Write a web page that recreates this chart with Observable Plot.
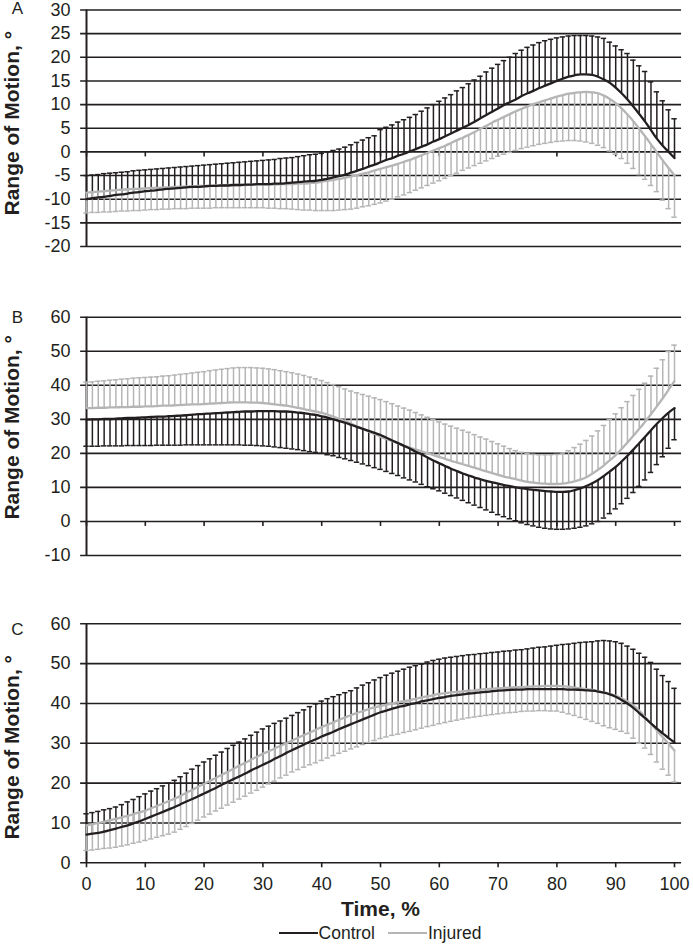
<!DOCTYPE html>
<html>
<head>
<meta charset="utf-8">
<script src="https://cdn.jsdelivr.net/npm/d3@7"></script>
<script src="https://cdn.jsdelivr.net/npm/@observablehq/plot@0.6"></script>
<style>
  html, body { margin: 0; padding: 0; background: #fff; }
  #fig { position: relative; width: 693px; height: 946px; font-family: "Liberation Sans", Arial, sans-serif; color: #231f20; }
  #fig svg { position: absolute; left: 0; overflow: visible; }
  .legend { position: absolute; top: 923px; left: 86px; width: 588px; height: 20px; display: flex; justify-content: center; align-items: center; font-size: 17.5px; line-height: 20px; }
  .sw { display: inline-block; width: 39px; height: 0; border-top: 2px solid #231f20; margin-right: 1px; }
</style>
</head>
<body>
<div id="fig"></div>
<script>
// ---------- data ----------
// time, % of the cycle (sample positions)
const time = d3.range(0, 101);
const xTicks = [0, 10, 20, 30, 40, 50, 60, 70, 80, 90, 100];

// Panel A
const ticksA = [-20, -15, -10, -5, 0, 5, 10, 15, 20, 25, 30];
const ctrlA_mean = [
  -10.0,-9.8,-9.6,-9.5,-9.3,-9.1,-9.0,-8.8,-8.6,-8.5,
  -8.3,-8.2,-8.1,-7.9,-7.8,-7.7,-7.6,-7.5,-7.4,-7.4,
  -7.3,-7.2,-7.2,-7.1,-7.1,-7.0,-7.0,-6.9,-6.9,-6.8,
  -6.8,-6.8,-6.7,-6.7,-6.6,-6.5,-6.4,-6.3,-6.2,-6.1,
  -5.9,-5.7,-5.4,-5.1,-4.8,-4.4,-4.0,-3.6,-3.1,-2.7,
  -2.2,-1.7,-1.3,-0.8,-0.4,0.1,0.6,1.1,1.6,2.2,
  2.7,3.3,3.9,4.5,5.1,5.7,6.4,7.1,7.8,8.5,
  9.2,9.9,10.5,11.1,11.8,12.4,12.9,13.5,14.0,14.5,
  15.0,15.5,15.9,16.2,16.4,16.4,16.3,15.9,15.3,14.6,
  13.6,12.4,11.1,9.6,8.0,6.4,4.6,2.8,1.3,0.0,
  -1.3];
// end of the one-sided SD bar (mean + SD)
const ctrlA_err = [
  -5.0,-4.9,-4.8,-4.6,-4.5,-4.4,-4.3,-4.2,-4.0,-3.9,
  -3.8,-3.7,-3.6,-3.5,-3.4,-3.3,-3.2,-3.1,-3.0,-2.9,
  -2.8,-2.7,-2.6,-2.5,-2.4,-2.3,-2.2,-2.1,-2.0,-1.9,
  -1.8,-1.7,-1.6,-1.4,-1.3,-1.2,-1.0,-0.8,-0.6,-0.5,
  -0.3,0.0,0.3,0.6,1.0,1.5,2.0,2.5,3.0,3.4,
  4.7,5.2,5.7,6.3,6.8,7.3,7.9,8.6,9.3,10.0,
  10.7,11.4,12.1,12.9,13.6,14.4,15.2,16.0,16.9,17.7,
  18.5,19.3,20.0,20.8,21.5,22.1,22.6,23.1,23.5,23.8,
  24.1,24.3,24.5,24.6,24.6,24.6,24.5,24.3,24.0,23.2,
  22.4,21.6,20.8,19.4,18.2,17.0,14.8,12.7,10.8,8.9,
  7.0];
const injA_mean = [
  -8.6,-8.5,-8.4,-8.3,-8.2,-8.1,-8.0,-7.9,-7.8,-7.8,
  -7.7,-7.6,-7.6,-7.5,-7.5,-7.4,-7.4,-7.3,-7.3,-7.2,
  -7.2,-7.2,-7.1,-7.1,-7.0,-7.0,-7.0,-7.0,-6.9,-6.9,
  -6.9,-6.9,-6.9,-6.8,-6.8,-6.8,-6.7,-6.7,-6.6,-6.5,
  -6.3,-6.1,-5.9,-5.7,-5.5,-5.2,-4.9,-4.6,-4.3,-3.9,
  -3.6,-3.2,-2.9,-2.5,-2.1,-1.7,-1.2,-0.7,-0.2,0.3,
  0.8,1.3,1.9,2.5,3.0,3.6,4.2,4.9,5.5,6.2,
  6.8,7.4,8.0,8.6,9.1,9.6,10.1,10.5,10.9,11.3,
  11.7,12.0,12.3,12.5,12.6,12.7,12.6,12.4,11.9,11.2,
  10.3,9.2,7.9,6.5,4.9,3.3,1.6,-0.1,-1.8,-3.4,
  -5.0];
// end of the one-sided SD bar (mean - SD)
const injA_err = [
  -12.9,-12.8,-12.8,-12.7,-12.7,-12.6,-12.5,-12.5,-12.4,-12.4,
  -12.3,-12.2,-12.2,-12.1,-12.1,-12.0,-12.0,-12.0,-11.9,-11.9,
  -11.9,-11.9,-11.8,-11.8,-11.8,-11.8,-11.8,-11.8,-11.8,-11.8,
  -11.8,-11.9,-11.9,-12.0,-12.0,-12.1,-12.2,-12.3,-12.3,-12.4,
  -12.4,-12.4,-12.4,-12.3,-12.2,-12.1,-11.9,-11.6,-11.4,-11.1,
  -10.8,-10.4,-10.0,-9.5,-9.1,-8.6,-8.1,-7.6,-7.1,-6.6,
  -6.1,-5.6,-5.0,-4.5,-3.9,-3.4,-2.9,-2.4,-1.9,-1.4,
  -0.9,-0.5,-0.1,0.3,0.7,1.0,1.3,1.6,1.8,2.0,
  2.2,2.3,2.4,2.4,2.3,2.1,1.8,1.4,0.9,0.2,
  -0.5,-1.4,-2.4,-3.5,-4.8,-5.8,-7.1,-8.4,-10.2,-12.0,
  -13.8];

// Panel B
const ticksB = [-10, 0, 10, 20, 30, 40, 50, 60];
const ctrlB_mean = [
  29.9,30.0,30.0,30.1,30.1,30.2,30.3,30.4,30.4,30.5,
  30.6,30.7,30.8,30.8,30.9,31.0,31.1,31.2,31.4,31.5,
  31.6,31.7,31.8,31.9,32.0,32.1,32.2,32.3,32.3,32.4,
  32.4,32.4,32.4,32.3,32.3,32.2,32.0,31.8,31.5,31.3,
  30.9,30.5,30.0,29.5,29.0,28.4,27.8,27.2,26.6,26.0,
  25.4,24.6,23.8,23.0,22.2,21.4,20.5,19.7,18.8,17.9,
  17.1,16.3,15.5,14.8,14.1,13.5,12.9,12.4,11.9,11.5,
  11.1,10.7,10.4,10.0,9.8,9.5,9.3,9.1,8.9,8.8,
  8.7,8.7,8.8,9.2,9.7,10.4,11.2,12.2,13.4,14.7,
  16.0,17.6,19.3,21.1,23.0,24.9,26.8,28.7,30.4,32.0,
  33.3];
const ctrlB_err = [
  22.1,22.1,22.1,22.2,22.2,22.2,22.2,22.3,22.3,22.3,
  22.3,22.3,22.4,22.4,22.4,22.4,22.4,22.5,22.5,22.5,
  22.5,22.5,22.5,22.5,22.5,22.5,22.5,22.4,22.4,22.3,
  22.2,22.1,21.9,21.7,21.5,21.3,21.1,20.8,20.5,20.3,
  20.0,19.6,19.3,18.8,18.4,17.9,17.4,16.9,16.4,15.8,
  15.3,14.7,14.1,13.5,12.8,12.2,11.6,10.9,10.2,9.6,
  9.0,8.3,7.6,6.9,6.2,5.5,4.8,4.1,3.4,2.7,
  2.0,1.4,0.8,0.2,-0.4,-0.9,-1.3,-1.7,-2.0,-2.2,
  -2.3,-2.3,-2.2,-2.0,-1.7,-1.3,-0.7,0.0,1.0,2.3,
  3.7,5.2,6.8,8.5,10.3,12.2,14.4,16.7,19.0,21.5,
  24.0];
const injB_mean = [
  33.3,33.3,33.4,33.4,33.5,33.5,33.6,33.6,33.7,33.7,
  33.8,33.8,33.9,34.0,34.0,34.1,34.2,34.3,34.4,34.4,
  34.5,34.6,34.7,34.8,34.9,35.0,35.0,35.0,34.9,34.9,
  34.8,34.6,34.4,34.2,34.0,33.7,33.4,33.0,32.6,32.3,
  31.9,31.4,30.8,30.1,29.4,28.7,27.9,27.2,26.4,25.7,
  24.9,24.2,23.6,22.9,22.3,21.7,21.1,20.6,20.0,19.5,
  18.9,18.4,17.8,17.3,16.8,16.3,15.8,15.2,14.7,14.2,
  13.7,13.2,12.8,12.4,12.0,11.6,11.4,11.2,11.1,11.0,
  11.0,11.1,11.4,11.8,12.3,13.0,14.0,15.2,16.5,18.0,
  19.5,21.3,23.2,25.2,27.2,29.3,31.5,33.8,36.2,38.7,
  41.2];
const injB_err = [
  40.9,41.0,41.2,41.3,41.5,41.6,41.8,41.9,42.1,42.2,
  42.3,42.4,42.5,42.7,42.8,43.0,43.2,43.4,43.6,43.8,
  44.0,44.3,44.5,44.7,44.9,45.1,45.2,45.2,45.2,45.1,
  45.0,44.8,44.6,44.3,44.0,43.7,43.3,42.9,42.4,41.9,
  41.4,40.8,40.2,39.6,38.9,38.3,37.8,37.3,36.8,36.3,
  35.8,35.2,34.6,33.9,33.3,32.7,32.0,31.3,30.6,29.9,
  29.2,28.6,28.0,27.4,26.8,26.2,25.5,24.8,24.2,23.5,
  22.8,22.1,21.4,20.8,20.3,19.9,19.7,19.6,19.6,19.6,
  19.7,20.1,20.8,21.7,22.7,23.8,25.1,26.6,28.2,29.9,
  31.6,33.4,35.2,37.0,38.8,40.6,42.7,45.0,47.5,49.9,
  51.8];

// Panel C
const ticksC = [0, 10, 20, 30, 40, 50, 60];
const ctrlC_mean = [
  7.1,7.3,7.5,7.8,8.2,8.6,9.0,9.4,9.9,10.4,
  11.0,11.6,12.2,12.8,13.4,14.0,14.7,15.4,16.0,16.7,
  17.4,18.1,18.8,19.6,20.3,21.0,21.7,22.4,23.2,23.9,
  24.6,25.3,26.1,26.8,27.6,28.3,29.0,29.7,30.4,31.0,
  31.7,32.3,32.9,33.6,34.2,34.8,35.4,36.0,36.6,37.2,
  37.8,38.2,38.7,39.1,39.4,39.8,40.1,40.5,40.8,41.1,
  41.4,41.6,41.9,42.1,42.3,42.5,42.6,42.8,42.9,43.1,
  43.2,43.3,43.4,43.5,43.5,43.6,43.6,43.6,43.6,43.6,
  43.6,43.6,43.5,43.5,43.4,43.3,43.2,43.0,42.7,42.3,
  41.7,40.9,40.0,38.9,37.6,36.3,35.0,33.7,32.5,31.3,
  30.2];
const ctrlC_err = [
  12.3,12.6,12.9,13.3,13.6,14.0,14.6,15.3,15.9,16.6,
  17.3,18.0,18.6,19.3,20.0,20.7,21.6,22.5,23.5,24.4,
  25.3,26.1,27.0,27.8,28.7,29.5,30.3,31.1,32.0,32.8,
  33.6,34.3,35.0,35.6,36.3,37.0,37.7,38.4,39.2,39.9,
  40.6,41.2,41.7,42.2,42.7,43.2,43.9,44.6,45.2,45.9,
  46.5,47.1,47.6,48.1,48.6,49.1,49.5,49.9,50.4,50.8,
  51.1,51.4,51.6,51.8,52.0,52.2,52.3,52.5,52.6,52.8,
  52.9,53.1,53.2,53.4,53.5,53.7,53.9,54.1,54.2,54.4,
  54.6,54.8,54.9,55.1,55.3,55.4,55.5,55.7,55.8,55.7,
  55.5,55.1,54.4,53.6,52.6,51.6,50.3,48.6,47.0,45.5,
  43.8];
const injC_mean = [
  9.4,9.7,10.0,10.3,10.7,11.0,11.4,11.8,12.2,12.7,
  13.1,13.7,14.3,14.9,15.5,16.1,16.8,17.6,18.3,19.1,
  19.8,20.6,21.3,22.1,22.8,23.6,24.4,25.1,25.9,26.6,
  27.4,28.0,28.7,29.4,30.0,30.7,31.4,32.1,32.7,33.4,
  34.1,34.7,35.3,35.9,36.5,37.1,37.6,38.1,38.6,39.0,
  39.4,39.7,40.0,40.3,40.6,40.8,41.2,41.5,41.8,42.1,
  42.4,42.6,42.8,42.9,43.1,43.2,43.3,43.5,43.6,43.7,
  43.8,43.9,44.0,44.1,44.1,44.2,44.3,44.3,44.4,44.4,
  44.4,44.3,44.2,44.0,43.8,43.6,43.4,43.1,42.8,42.4,
  41.9,41.3,40.5,39.5,38.2,36.6,34.9,33.2,31.5,29.9,
  28.2];
const injC_err = [
  3.1,3.2,3.4,3.6,3.7,3.9,4.2,4.5,4.9,5.2,
  5.6,6.0,6.4,6.8,7.2,7.7,8.4,9.1,9.9,10.7,
  11.5,12.2,13.0,13.7,14.5,15.2,16.0,16.7,17.5,18.2,
  19.0,19.8,20.5,21.3,22.0,22.8,23.4,24.0,24.6,25.1,
  25.7,26.3,26.9,27.5,28.0,28.6,29.1,29.7,30.2,30.7,
  31.2,31.6,32.0,32.3,32.7,33.0,33.4,33.8,34.2,34.5,
  34.9,35.2,35.5,35.8,36.1,36.4,36.6,36.8,37.0,37.2,
  37.4,37.6,37.7,37.8,38.0,38.1,38.1,38.2,38.2,38.1,
  38.1,37.8,37.4,37.0,36.5,36.0,35.5,35.0,34.4,33.9,
  33.5,33.0,32.5,31.3,30.0,28.8,27.2,25.3,23.5,22.0,
  20.3];

const yTitle = "Range of Motion, °";
const xTitle = "Time, %";
const seriesNames = ["Control", "Injured"];

// ---------- styling ----------
const INK = "#231f20";
const CTRL = "#231f20";
const INJ = "#b5b5b5";
const FONT = "'Liberation Sans', Arial, sans-serif";
const TICK_FS = 18;
const TITLE_FS = 21;
const BAR_W = 1.5;

function panel(o) {
  const rows = time.map((t, i) => ({t, cm: o.cm[i], ce: o.ce[i], im: o.im[i], ie: o.ie[i]}));
  const marks = [
    // horizontal gridlines (extend a little beyond the axis, like the original)
    Plot.ruleY(o.ticks, {y: d => d, x1: -1, x2: 101.2, stroke: INK, strokeWidth: 1.6}),
    // vertical axis line
    Plot.ruleX([0], {x: d => d, y1: o.domain[0], y2: o.domain[1], stroke: INK, strokeWidth: 2}),
    // x tick marks hanging from the zero line
    Plot.ruleX(xTicks, {x: d => d, y1: 0, y2: 0, insetTop: 5, stroke: INK, strokeWidth: 1.6}),
    // error bars: control
    Plot.ruleX(rows, {x: "t", y1: "cm", y2: "ce", stroke: CTRL, strokeWidth: BAR_W}),
    Plot.ruleY(rows, {y: "ce", x1: "t", x2: "t", insetLeft: -2.7, insetRight: -2.7, stroke: CTRL, strokeWidth: BAR_W}),
    // error bars: injured
    Plot.ruleX(rows, {x: "t", y1: "im", y2: "ie", stroke: INJ, strokeWidth: BAR_W}),
    Plot.ruleY(rows, {y: "ie", x1: "t", x2: "t", insetLeft: -2.7, insetRight: -2.7, stroke: INJ, strokeWidth: BAR_W}),
    // mean lines
    Plot.line(rows, {x: "t", y: "im", stroke: INJ, strokeWidth: 2.3, curve: "monotone-x"}),
    Plot.line(rows, {x: "t", y: "cm", stroke: CTRL, strokeWidth: 2.3, curve: "monotone-x"}),
    // y tick labels
    Plot.text(o.ticks, {y: d => d, text: d => String(d), frameAnchor: "left", dx: -16, textAnchor: "end", lineAnchor: "middle", fontSize: TICK_FS, fill: INK}),
    // y title
    Plot.text([yTitle], {frameAnchor: "left", rotate: -90, dx: -74, dy: o.labelDy, textAnchor: "middle", lineAnchor: "middle", fontSize: TITLE_FS, fontWeight: "bold", fill: INK}),
    // panel letter
    Plot.text([o.letter], {frameAnchor: "top-left", dx: -69, dy: o.letterDy, textAnchor: "middle", lineAnchor: "middle", fontSize: 17, fill: INK})
  ];
  if (o.xAxis) {
    marks.push(Plot.text(xTicks, {x: d => d, text: d => String(d), frameAnchor: "bottom", dy: 21, textAnchor: "middle", lineAnchor: "middle", fontSize: TICK_FS, fill: INK}));
    marks.push(Plot.text([xTitle], {frameAnchor: "bottom", dy: 46, textAnchor: "middle", lineAnchor: "middle", fontSize: TITLE_FS, fontWeight: "bold", fill: INK}));
  }
  const svg = Plot.plot({
    width: 693,
    height: o.height,
    marginLeft: 86,
    marginRight: 19,
    marginTop: o.mt,
    marginBottom: o.mb,
    x: {domain: [0, 100], axis: null, label: null},
    y: {domain: o.domain, axis: null, label: null},
    style: {fontFamily: FONT, fontSize: "17px", color: INK, background: "transparent", overflow: "visible"},
    marks
  });
  svg.style.top = o.top + "px";
  return svg;
}

const fig = document.getElementById("fig");
fig.appendChild(panel({top: 0, height: 260, mt: 9.5, mb: 14, domain: [-20, 30], ticks: ticksA,
  cm: ctrlA_mean, ce: ctrlA_err, im: injA_mean, ie: injA_err, letter: "A", letterDy: -1.5, labelDy: -5}));
fig.appendChild(panel({top: 290, height: 280, mt: 26.7, mb: 15, domain: [-10, 60], ticks: ticksB,
  cm: ctrlB_mean, ce: ctrlB_err, im: injB_mean, ie: injB_err, letter: "B", letterDy: 0, labelDy: -9}));
fig.appendChild(panel({top: 600, height: 320, mt: 23.3, mb: 57.7, domain: [0, 60], ticks: ticksC,
  cm: ctrlC_mean, ce: ctrlC_err, im: injC_mean, ie: injC_err, letter: "C", letterDy: 6, labelDy: 4, xAxis: true}));

// legend
const lg = document.createElement("div");
lg.className = "legend";
lg.innerHTML =
  `<span class="sw" style="border-top-color:${CTRL}"></span><span>${seriesNames[0]}</span>` +
  `<span style="display:inline-block;width:13px"></span>` +
  `<span class="sw" style="border-top-color:${INJ}"></span><span>${seriesNames[1]}</span>`;
fig.appendChild(lg);
</script>
</body>
</html>
